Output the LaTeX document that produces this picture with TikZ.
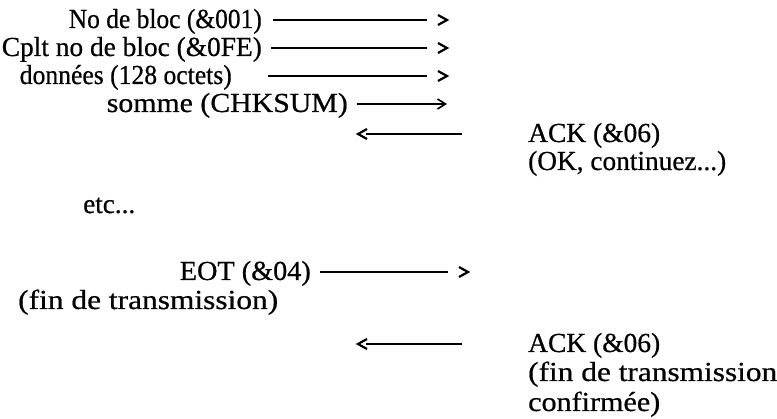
\documentclass[tikz,border=0pt]{standalone}
\usepackage{fontspec}
\usepackage{graphicx}
\setmainfont{Liberation Serif}[FakeBold=0.6]
\usetikzlibrary{calc,arrows.meta}
\newcommand\fitw[2]{\resizebox{#1pt}{\height}{#2}}
\begin{document}
\begin{tikzpicture}[x=1pt,y=-1pt,
  lbl/.style={inner sep=0pt,font=\fontsize{27.5}{30}\selectfont},
  lft/.style={lbl,anchor=base east},
  rgt/.style={lbl,anchor=base west},
  wire/.style={line width=1.4pt},
  chev/.style={line width=2.2pt,line cap=butt,line join=miter},
  tip/.style={line width=1.4pt,-{Straight Barb[length=8pt,width=10pt,line width=1.6pt]}}]
\useasboundingbox (0,0) rectangle (777,419);
% left column
\node[lft] (n1) at (262,28) {\fitw{193}{No de bloc (\&001)}};
\node[lft] (n2) at (262,56) {\fitw{260}{Cplt no de bloc (\&0FE)}};
\node[lft] (n3) at (232,84) {\fitw{212}{données (128 octets)}};
\node[lft] (n4) at (348,112) {\fitw{241}{somme (CHKSUM)}};
% right column
\node[rgt] (a1) at (528,142) {\fitw{132}{ACK (\&06)}};
\node[rgt] (a1b) at (528,170) {\fitw{198}{(OK, continuez...)}};
\node[rgt] (etc) at (83,213) {\fitw{52}{etc...}};
\node[lft] (eot) at (311,280) {\fitw{131}{EOT (\&04)}};
\node[rgt] (fin) at (18,309) {\fitw{260}{(fin de transmission)}};
\node[rgt] (a2) at (528,352) {\fitw{132}{ACK (\&06)}};
\node[rgt] (a2b) at (528,381) {\fitw{249}{(fin de transmission}};
\node[rgt] (a2c) at (528,411) {\fitw{132}{confirmée)}};
% arrow end coordinates
\coordinate (t1) at (447,20);
\coordinate (t2) at (447,48);
\coordinate (t3) at (447,76);
\coordinate (t4) at (447,104);
\coordinate (t5) at (358,134);
\coordinate (t6) at (468,272);
\coordinate (t7) at (358,344);
% outgoing lines with detached chevrons
\foreach \n/\t/\g in {n1/t1/11,n2/t2/9,n3/t3/36,eot/t6/9}{
  \draw[wire] ([shift={(\g,-8)}]\n.base east) -- ($(\t)+(-20,0)$);
  \draw[chev] ($(\t)+(-9,-5)$) -- (\t) -- ($(\t)+(-9,5)$);
}
\draw[tip] ([shift={(9,-8)}]n4.base east) -- (t4);
% returning arrows
\foreach \n/\t in {a1/t5,a2/t7}{
  \draw[wire] ([shift={(-66,-8)}]\n.base west) -- ($(\t)+(8,0)$);
  \draw[chev] ($(\t)+(9,-5)$) -- (\t) -- ($(\t)+(9,5)$);
}
\end{tikzpicture}
\end{document}
